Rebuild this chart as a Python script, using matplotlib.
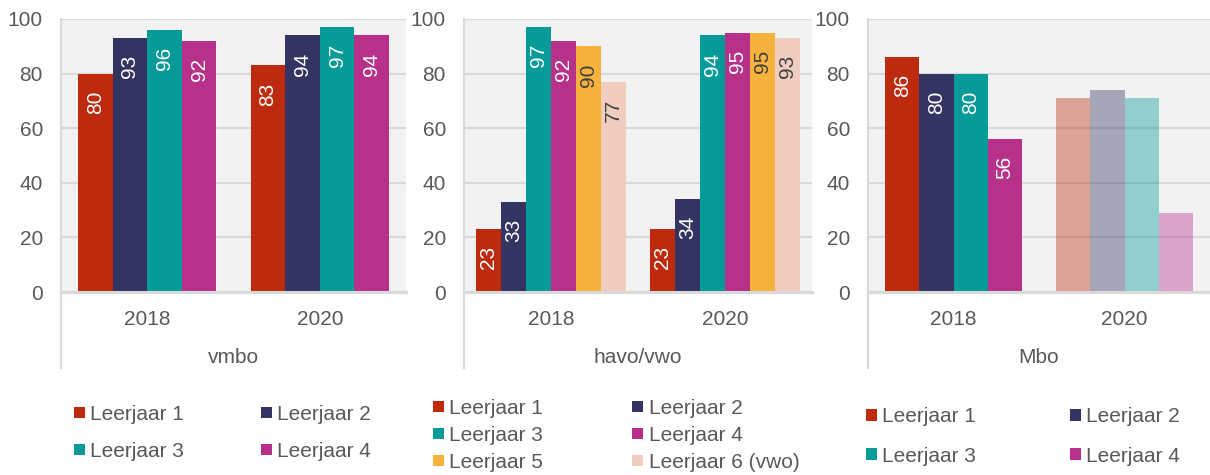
import matplotlib
matplotlib.use('Agg')
import matplotlib.pyplot as plt
from matplotlib.lines import Line2D

plt.rcParams['font.family'] = ['Liberation Sans', 'DejaVu Sans']

# ---- data ----
years = ['2018', '2020']
group_names = ['vmbo', 'havo/vwo', 'Mbo']
series4 = ['Leerjaar 1', 'Leerjaar 2', 'Leerjaar 3', 'Leerjaar 4']
series6 = ['Leerjaar 1', 'Leerjaar 2', 'Leerjaar 3', 'Leerjaar 4', 'Leerjaar 5', 'Leerjaar 6 (vwo)']

vmbo_2018 = [80, 93, 96, 92]
vmbo_2020 = [83, 94, 97, 94]
havo_2018 = [23, 33, 97, 92, 90, 77]
havo_2020 = [23, 34, 94, 95, 95, 93]
mbo_2018 = [86, 80, 80, 56]
mbo_2020 = [71, 74, 71, 29]

colors = ['#BE2A0E', '#343463', '#069A98', '#B7318A', '#F7B23D', '#F0CDBF']
label_colors = ['white', 'white', 'white', 'white', '#404040', '#404040']

W, H = 1210, 475
fig = plt.figure(figsize=(W / 100, H / 100), dpi=100)

TXT = '#595959'
GRID = '#d9d9d9'
FS = 15

panels = [
    dict(x0=61, x1=406, names=series4, v18=vmbo_2018, v20=vmbo_2020, lab20=True, fade20=False,
         title=group_names[0], leg_x=74, leg_y=433, colsp=3.7, labsp=0.86),
    dict(x0=464, x1=812, names=series6, v18=havo_2018, v20=havo_2020, lab20=True, fade20=False,
         title=group_names[1], leg_x=433, leg_y=435.5, colsp=4.28, labsp=0.38),
    dict(x0=868, x1=1210, names=series4, v18=mbo_2018, v20=mbo_2020, lab20=False, fade20=True,
         title=group_names[2], leg_x=866, leg_y=436.5, colsp=4.5, labsp=0.96),
]

y_top, y_zero = 19, 292

for p in panels:
    ax = fig.add_axes([p['x0'] / W, 1 - y_zero / H, (p['x1'] - p['x0']) / W, (y_zero - y_top) / H])
    ax.set_facecolor('#f2f2f2')
    n = len(p['names'])
    w = 1.0 / (n + 1)
    handles = []
    for j in range(n):
        xs = [i + (j - (n - 1) / 2) * w for i in range(2)]
        vals = [p['v18'][j], p['v20'][j]]
        bars = ax.bar(xs, vals, width=w, color=colors[j], zorder=2, linewidth=0,
                      label=p['names'][j])
        if p['fade20']:
            bars[1].set_alpha(0.4)
        handles.append(bars)
        for i in range(2):
            if i == 1 and not p['lab20']:
                continue
            ax.annotate(str(vals[i]), xy=(xs[i], vals[i]), xytext=(0, -17),
                        textcoords='offset pixels', rotation=90, ha='center', va='top',
                        color=label_colors[j], fontsize=FS)
    ax.set_xlim(-0.5, 1.5)
    ax.set_ylim(0, 100)
    ax.set_yticks([0, 20, 40, 60, 80, 100])
    ax.yaxis.grid(True, color=GRID, linewidth=1.5, zorder=0)
    ax.set_axisbelow(True)
    ax.tick_params(axis='y', length=0, pad=13, labelsize=FS, labelcolor=TXT)
    ax.set_xticks([0, 1])
    ax.set_xticklabels(years)
    ax.tick_params(axis='x', length=0, pad=13, labelsize=FS, labelcolor=TXT)
    for s in ['top', 'right', 'left']:
        ax.spines[s].set_visible(False)
    ax.spines['bottom'].set_color(GRID)
    ax.spines['bottom'].set_linewidth(2.2)
    ax.spines['bottom'].set_zorder(3)
    # left boundary line extending through category labels
    xl = p['x0'] / W
    fig.add_artist(Line2D([xl, xl], [1 - y_top / H, 1 - 368 / H], color=GRID, linewidth=1.5))
    fig.text((p['x0'] + p['x1']) / 2 / W, 1 - 363 / H, p['title'], ha='center', va='baseline',
             fontsize=FS, color=TXT)
    # legend in row-major order
    order = list(range(0, n, 2)) + list(range(1, n, 2))
    fig.legend([handles[k] for k in order], [p['names'][k] for k in order], ncol=2,
               loc='center left', bbox_to_anchor=(p['leg_x'] / W, 1 - p['leg_y'] / H),
               bbox_transform=fig.transFigure, frameon=False, fontsize=FS,
               handlelength=0.53, handleheight=0.48, handletextpad=0.25,
               columnspacing=p['colsp'], labelspacing=p['labsp'], borderpad=0,
               borderaxespad=0, labelcolor=TXT)

fig.savefig('out.png', dpi=100)
